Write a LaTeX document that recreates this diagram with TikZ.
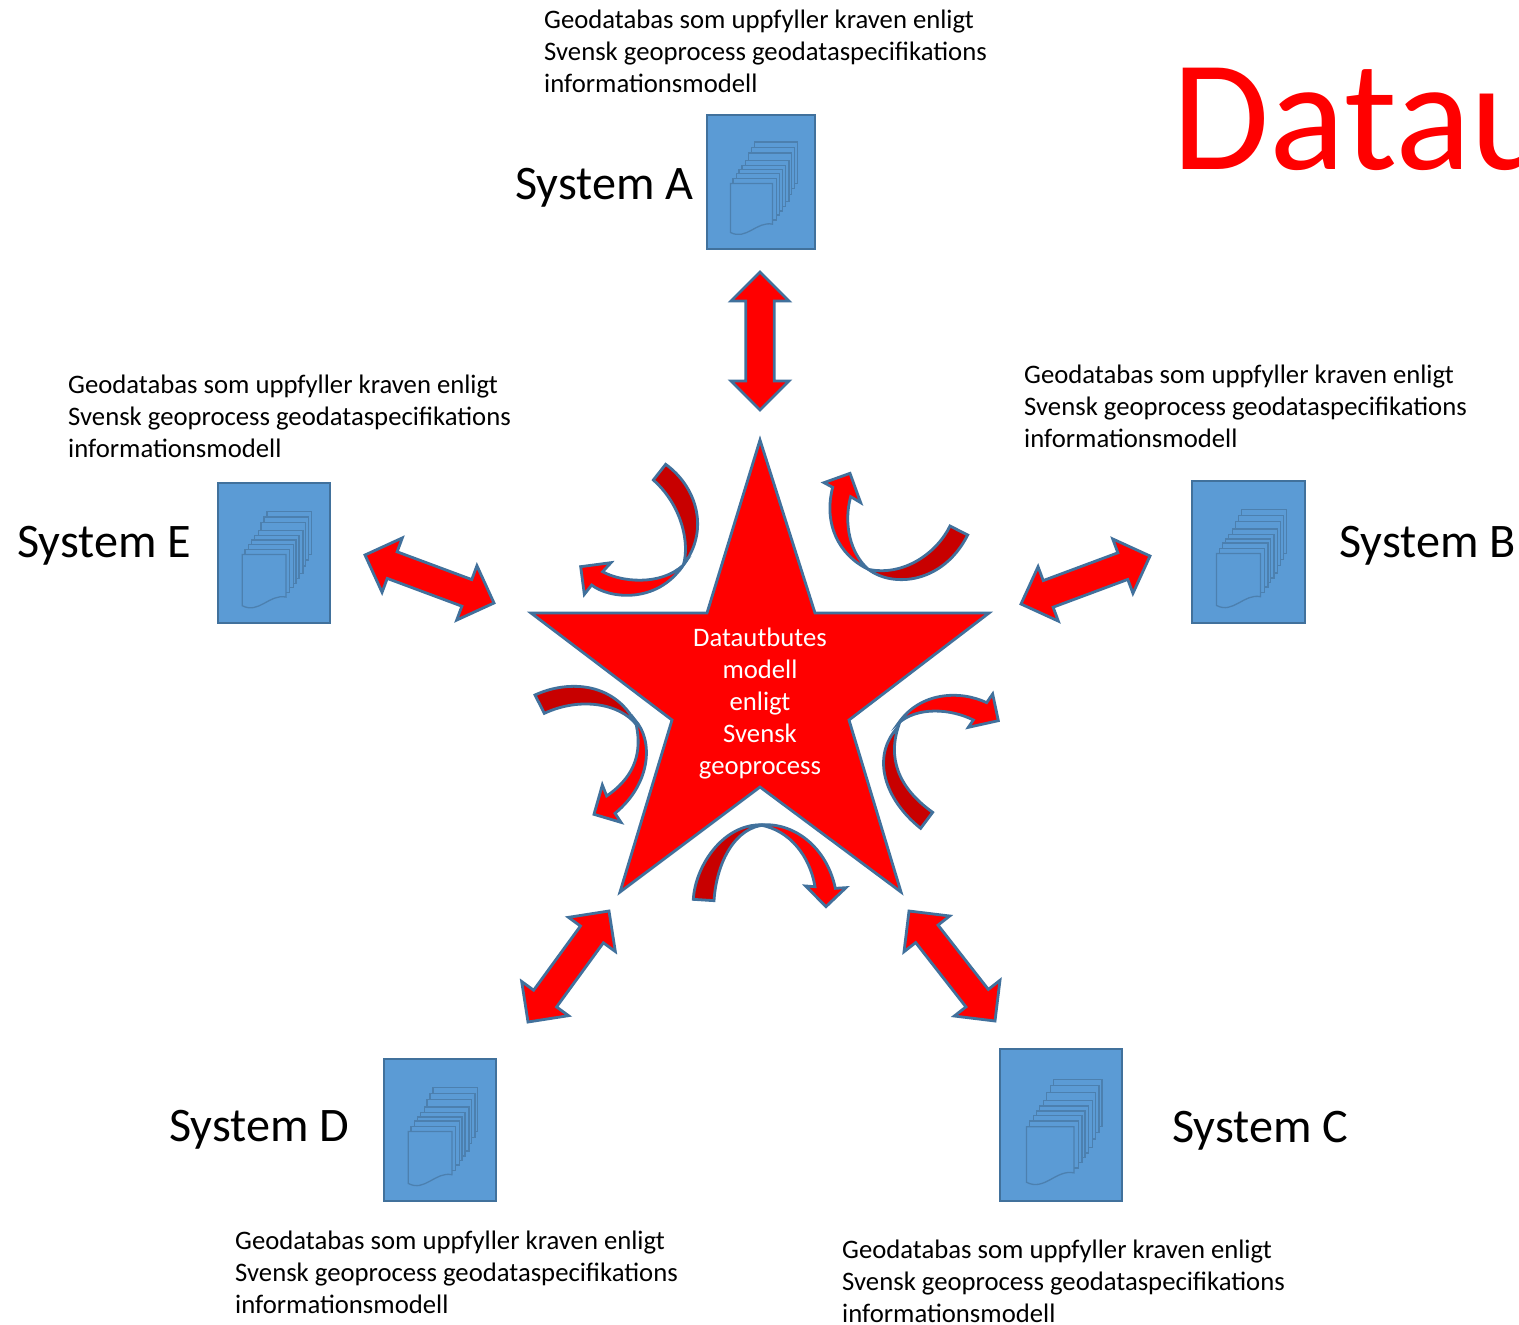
\documentclass[tikz,border=0pt]{standalone}
\usepackage{fontspec}
\setmainfont{Carlito}
\definecolor{bluefill}{HTML}{5B9BD5}
\definecolor{bluestroke}{HTML}{41719C}
\definecolor{pagestroke}{HTML}{4C80AF}
\definecolor{darkred}{HTML}{C80000}
\tikzset{
  shapeline/.style={draw=bluestroke,line width=2.8pt,line join=miter},
  redshape/.style={shapeline,fill=red},
  darkshape/.style={shapeline,fill=darkred},
  sysbox/.style={draw=bluestroke,line width=1.2pt,fill=bluefill,inner sep=0pt,rectangle},
  page/.style={draw=pagestroke,line width=1.3pt,fill=bluefill},
  desc/.style={anchor=north west,inner sep=0pt,align=left,font=\fontsize{26.7}{32}\selectfont},
  syslabel/.style={anchor=base west,inner sep=0pt,font=\fontsize{48.2}{56}\selectfont}
}
% box with stacked-document icon: name, x0,y0,x1,y1
\newcommand{\docbox}[5]{%
  \pgfmathsetmacro{\bw}{#4-#2}\pgfmathsetmacro{\bh}{#5-#3}%
  \pgfmathsetmacro{\cx}{(#2+#4)/2}\pgfmathsetmacro{\cy}{(#3+#5)/2}%
  \node[sysbox,minimum width=\bw pt,minimum height=\bh pt] (#1) at (\cx,\cy) {};
  \pgfmathsetmacro{\sx}{\bw/323}\pgfmathsetmacro{\sy}{\bh/405}%
  \begin{scope}[shift={(#2,#3)},x=\sx pt,y=-\sy pt,shift={(-52,-45)}]
    \foreach \a/\b in {193/127,185/143,176/160,168/182,157/197,148/210,140/222,130/237}{
      \pgfmathsetmacro{\c}{\a+129}\pgfmathsetmacro{\d}{\b+125}
      \draw[page] (\a,\b) rectangle (\c,\d);
    }
    \draw[page] (122,252) -- (248,252) -- (248,375) .. controls (200,365) and (170,425) .. (122,400) -- cycle;
  \end{scope}
}
% straight double block arrow between two tips
\newcommand{\dblarrow}[4]{%
  \pgfmathsetmacro{\L}{veclen(#3-#1,#4-#2)}%
  \pgfmathsetmacro{\ux}{(#3-#1)/\L}\pgfmathsetmacro{\uy}{(#4-#2)/\L}%
  \pgfmathsetmacro{\Lh}{\L-29}%
  \begin{scope}[shift={(#1,#2)},x={(\ux pt,-\uy pt)},y={(\uy pt,\ux pt)}]
    \draw[redshape] (0,0)--(29,29)--(29,14.2)--(\Lh,14.2)--(\Lh,29)--(\L,0)--(\Lh,-29)--(\Lh,-14.2)--(29,-14.2)--(29,-29)--cycle;
  \end{scope}
}
\begin{document}
\begin{tikzpicture}[x=1pt,y=-1pt]
\useasboundingbox (0,0) rectangle (1519,1325);
\fill[white] (0,0) rectangle (1519,1325);

% title, cut by the picture's edge
\begin{scope}
  \clip (0,0) rectangle (1519,1325);
  \node[anchor=base west,inner sep=0pt,text=red,font=\fontsize{158}{158}\selectfont] (title) at (1172.5,169) {Datau};
\end{scope}

% star
\draw[redshape,fill=red] (760,440)--(815,613)--(989,613)--(849,720)--(901,892)--(760,787)--(620,892)--(672,720)--(531,613)--(707,613)--cycle;
\node[inner sep=0pt,text=white,align=center,font=\fontsize{26.7}{32}\selectfont,anchor=center] (core) at (760,703.5) {Datautbutes\\modell\\enligt\\Svensk\\geoprocess};

% boxes
\docbox{sysA}{707}{115}{815}{249}
\docbox{sysB}{1192}{481}{1305}{623}
\docbox{sysC}{1000}{1049}{1122}{1201}
\docbox{sysD}{384}{1059}{496}{1201}
\docbox{sysE}{218}{483}{330}{623}

% labels
\node[syslabel] (lA) at (515,199) {System A};
\node[syslabel] (lB) at (1339,557) {System B};
\node[syslabel] (lC) at (1172,1142) {System C};
\node[syslabel] (lD) at (169,1141) {System D};
\node[syslabel] (lE) at (17,557) {System E};

\node[desc] (dA) at (544,9.5) {Geodatabas som uppfyller kraven enligt\\Svensk geoprocess geodataspecifikations\\informationsmodell};
\node[desc] (dB) at (1024,364.5) {Geodatabas som uppfyller kraven enligt\\Svensk geoprocess geodataspecifikations\\informationsmodell};
\node[desc] (dC) at (842,1239.5) {Geodatabas som uppfyller kraven enligt\\Svensk geoprocess geodataspecifikations\\informationsmodell};
\node[desc] (dD) at (235,1230.5) {Geodatabas som uppfyller kraven enligt\\Svensk geoprocess geodataspecifikations\\informationsmodell};
\node[desc] (dE) at (68,374.5) {Geodatabas som uppfyller kraven enligt\\Svensk geoprocess geodataspecifikations\\informationsmodell};

% straight arrows
\dblarrow{760}{272}{760}{410}
\dblarrow{1021}{604}{1150}{556}
\dblarrow{909}{911}{995}{1021}
\dblarrow{609}{911}{528}{1022}
\dblarrow{365}{555}{494}{603}

% curved arrows
\begin{scope}[shift={(520,430)},x=0.33333pt,y=-0.33333pt]
  \draw[darkshape] (437,103) .. controls (530,170) and (570,300) .. (490,405) .. controls (510,340) and (485,225) .. (400,150) -- cycle;
  \draw[redshape] (490,405) .. controls (410,525) and (265,505) .. (215,465) -- (193,493) -- (182,410) -- (273,398) -- (248,425) .. controls (300,455) and (420,470) .. (490,405) -- cycle;
\end{scope}
\begin{scope}[shift={(760,430)},x=0.33333pt,y=-0.33333pt]
  \draw[darkshape] (570,288) .. controls (530,370) and (430,440) .. (325,418) .. controls (400,475) and (550,460) .. (623,315) -- cycle;
  \draw[redshape] (325,418) .. controls (235,375) and (190,280) .. (218,172) -- (192,158) -- (270,130) -- (302,218) -- (272,200) .. controls (250,280) and (270,370) .. (325,418) -- cycle;
\end{scope}
\begin{scope}[shift={(520,670)},x=0.33333pt,y=-0.33333pt]
  \draw[darkshape] (45,75) .. controls (130,35) and (280,25) .. (350,165) .. controls (300,100) and (180,80) .. (73,130) -- cycle;
  \draw[redshape] (345,150) .. controls (400,210) and (395,340) .. (285,430) -- (303,457) -- (222,433) -- (247,345) -- (260,378) .. controls (330,330) and (375,260) .. (345,150) -- cycle;
  \draw[darkshape] (520,688) .. controls (525,590) and (610,455) .. (735,465) .. controls (650,470) and (590,570) .. (582,692) -- cycle;
\end{scope}
\begin{scope}[shift={(760,670)},x=0.33333pt,y=-0.33333pt]
  \draw[redshape] (0,465) .. controls (100,455) and (200,530) .. (226,655) -- (258,653) -- (198,710) -- (137,648) -- (165,650) .. controls (150,560) and (90,480) .. (0,465) -- cycle;
  \draw[darkshape] (482,475) .. controls (375,390) and (330,260) .. (415,170) .. controls (385,260) and (410,350) .. (518,427) -- cycle;
  \draw[redshape] (415,160) .. controls (480,65) and (600,60) .. (680,98) -- (698,72) -- (715,152) -- (625,172) -- (640,150) .. controls (570,115) and (470,110) .. (415,160) -- cycle;
\end{scope}
\end{tikzpicture}
\end{document}
